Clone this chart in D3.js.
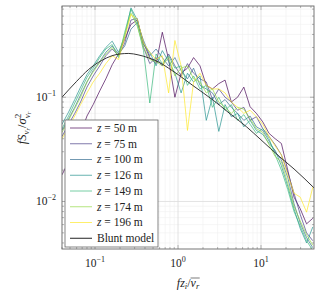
<!DOCTYPE html>
<html><head><meta charset="utf-8">
<script src="https://cdn.jsdelivr.net/npm/d3@7"></script>
<style>body{margin:0;background:#fff} svg{display:block} text{font-family:"Liberation Serif","DejaVu Serif","Times New Roman",serif}</style>
</head><body><svg id="c" width="320" height="295"></svg>
<script>
const freq = [0.040,0.048,0.057,0.067,0.080,0.095,0.114,0.135,0.161,0.192,0.228,0.271,0.323,0.384,0.457,0.544,0.647,0.770,0.917,1.09,1.30,1.54,1.84,2.19,2.60,3.10,3.69,4.39,5.22,6.21,7.39,8.80,10.5,12.5,14.8,17.6,21.0,25.0,29.7,35.4,42.1];
const heights = [50, 75, 100, 126, 149, 174, 196];
const z50  = [0.018,0.024,0.033,0.045,0.066,0.085,0.115,0.15,0.205,0.26,0.36,0.50,0.55,0.33,0.24,0.21,0.42,0.23,0.10,0.17,0.19,0.24,0.20,0.13,0.12,0.135,0.146,0.09,0.10,0.125,0.081,0.07,0.058,0.045,0.040,0.036,0.020,0.011,0.0085,0.0061,0.0069];
const z75  = [0.042,0.055,0.07,0.09,0.125,0.16,0.2,0.25,0.29,0.25,0.33,0.55,0.57,0.3,0.21,0.24,0.2,0.26,0.2,0.16,0.21,0.17,0.15,0.14,0.095,0.12,0.1,0.09,0.075,0.08,0.06,0.065,0.05,0.042,0.035,0.028,0.019,0.012,0.0075,0.005,0.0042];
const z100 = [0.048,0.062,0.08,0.105,0.14,0.18,0.22,0.27,0.31,0.26,0.31,0.45,0.52,0.35,0.25,0.29,0.24,0.2,0.24,0.18,0.15,0.19,0.13,0.12,0.11,0.085,0.095,0.08,0.07,0.06,0.066,0.052,0.048,0.038,0.03,0.025,0.017,0.0095,0.0062,0.0045,0.0036];
const z126 = [0.055,0.072,0.095,0.125,0.165,0.2,0.25,0.3,0.345,0.27,0.38,0.72,0.55,0.32,0.27,0.2,0.28,0.22,0.17,0.11,0.17,0.14,0.16,0.06,0.1,0.047,0.085,0.065,0.07,0.052,0.06,0.048,0.044,0.036,0.031,0.022,0.014,0.0085,0.0055,0.004,0.0057];
const z149 = [0.05,0.066,0.088,0.115,0.155,0.19,0.24,0.29,0.32,0.24,0.42,0.7,0.5,0.28,0.088,0.26,0.21,0.25,0.19,0.2,0.13,0.16,0.12,0.13,0.08,0.1,0.075,0.085,0.06,0.068,0.055,0.045,0.05,0.04,0.028,0.02,0.013,0.008,0.0058,0.0042,0.0034];
const z174 = [0.046,0.06,0.078,0.1,0.14,0.175,0.215,0.26,0.3,0.25,0.4,0.64,0.48,0.3,0.23,0.22,0.2,0.24,0.16,0.19,0.2,0.15,0.14,0.11,0.12,0.09,0.08,0.07,0.08,0.077,0.062,0.05,0.046,0.035,0.027,0.024,0.015,0.009,0.0065,0.0048,0.0038];
const z196 = [0.04,0.052,0.066,0.085,0.11,0.14,0.17,0.21,0.25,0.23,0.37,0.62,0.56,0.33,0.27,0.23,0.25,0.11,0.35,0.2,0.048,0.14,0.17,0.13,0.12,0.12,0.11,0.09,0.08,0.07,0.075,0.065,0.055,0.042,0.034,0.028,0.018,0.012,0.011,0.0079,0.0137];
const bluntX = [0.04,0.06,0.084,0.12,0.16,0.2,0.255,0.33,0.44,0.6,0.77,1.0,1.5,2.66,4,6.7,10,16.9,25,43.5];
const bluntY = [0.1,0.142,0.185,0.225,0.25,0.26,0.263,0.255,0.239,0.215,0.19,0.165,0.13,0.0935,0.072,0.052,0.039,0.0267,0.0205,0.0135];
const xTickVals = [0.1, 1, 10];
const xTickExp = ["\u22121", "0", "1"];
const yTickVals = [0.01, 0.1];
const yTickExp = ["\u22122", "\u22121"];

const seriesData = [z50, z75, z100, z126, z149, z174, z196];

const svg = d3.select("#c");
const L=62, R=314, T=6, B=249;
const x = d3.scaleLog().domain([0.04,43.5]).range([L,R]);
const y = d3.scaleLog().domain([0.0035,0.75]).range([B,T]);
const color = i => d3.interpolateViridis(i/6);
const OP = 0.68;

function decadeTicks(lo, hi){
  const major=[], minor=[];
  for(let e=-3;e<=2;e++) for(let m=1;m<=9;m++){
    const v=m*Math.pow(10,e);
    if(v>=lo*0.9999 && v<=hi*1.0001) (m===1?major:minor).push(v);
  }
  return {major, minor};
}
const xt = decadeTicks(0.04,43.5), yt = decadeTicks(0.0035,0.75);

const g = svg.append("g");
g.selectAll(".gxm").data(xt.minor).enter().append("line")
 .attr("x1",d=>x(d)).attr("x2",d=>x(d)).attr("y1",T).attr("y2",B)
 .attr("stroke","#f0f0f0").attr("stroke-width",0.6);
g.selectAll(".gym").data(yt.minor).enter().append("line")
 .attr("y1",d=>y(d)).attr("y2",d=>y(d)).attr("x1",L).attr("x2",R)
 .attr("stroke","#f0f0f0").attr("stroke-width",0.6);
g.selectAll(".gxM").data(xt.major).enter().append("line")
 .attr("x1",d=>x(d)).attr("x2",d=>x(d)).attr("y1",T).attr("y2",B)
 .attr("stroke","#dcdcdc").attr("stroke-width",0.8);
g.selectAll(".gyM").data(yt.major).enter().append("line")
 .attr("y1",d=>y(d)).attr("y2",d=>y(d)).attr("x1",L).attr("x2",R)
 .attr("stroke","#dcdcdc").attr("stroke-width",0.8);

const tk = svg.append("g").attr("stroke","#888").attr("stroke-width",0.6);
[[xt.major,4],[xt.minor,2]].forEach(([vals,len])=>{
  vals.forEach(v=>{
    tk.append("line").attr("x1",x(v)).attr("x2",x(v)).attr("y1",B).attr("y2",B-len);
    tk.append("line").attr("x1",x(v)).attr("x2",x(v)).attr("y1",T).attr("y2",T+len);
  });
});
[[yt.major,4],[yt.minor,2]].forEach(([vals,len])=>{
  vals.forEach(v=>{
    tk.append("line").attr("y1",y(v)).attr("y2",y(v)).attr("x1",L).attr("x2",L+len);
    tk.append("line").attr("y1",y(v)).attr("y2",y(v)).attr("x1",R).attr("x2",R-len);
  });
});

svg.append("clipPath").attr("id","clip").append("rect")
  .attr("x",L).attr("y",T).attr("width",R-L).attr("height",B-T);

const line = d3.line().x(d=>x(d[0])).y(d=>y(d[1]));
const plot = svg.append("g").attr("clip-path","url(#clip)");
seriesData.forEach((arr,i)=>{
  plot.append("path").datum(freq.map((f,j)=>[f,arr[j]]))
    .attr("d",line).attr("fill","none")
    .attr("stroke",color(i)).attr("stroke-opacity",OP).attr("stroke-width",1);
});
plot.append("path").datum(bluntX.map((f,j)=>[f,bluntY[j]]))
  .attr("d",d3.line().curve(d3.curveMonotoneX).x(d=>x(d[0])).y(d=>y(d[1])))
  .attr("fill","none").attr("stroke","#222").attr("stroke-width",0.9);

svg.append("rect").attr("x",L).attr("y",T).attr("width",R-L).attr("height",B-T)
  .attr("fill","none").attr("stroke","#666").attr("stroke-width",0.9);

xTickVals.forEach((v,i)=>{
  const t = svg.append("text").attr("x",x(v)).attr("y",267)
    .attr("text-anchor","middle").attr("font-size",11.5).attr("fill","#222");
  t.append("tspan").text("10");
  t.append("tspan").attr("dy",-5).attr("font-size",8).text(xTickExp[i]);
});
yTickVals.forEach((v,i)=>{
  const t = svg.append("text").attr("x",56).attr("y",y(v)+4)
    .attr("text-anchor","end").attr("font-size",11.5).attr("fill","#222");
  t.append("tspan").text("10");
  t.append("tspan").attr("dy",-5).attr("font-size",8).text(yTickExp[i]);
});

const xl = svg.append("text").attr("x",188).attr("y",287).attr("text-anchor","middle")
  .attr("font-size",12).attr("fill","#222").attr("font-style","italic");
xl.append("tspan").text("fz");
xl.append("tspan").attr("font-size",8.5).attr("dy",2).text("i");
xl.append("tspan").attr("dy",-2).attr("font-style","normal").text("/");
xl.append("tspan").text("v");
xl.append("tspan").attr("font-size",8.5).attr("dy",2).text("r");
{
  const node = xl.node();
  const x0 = node.getStartPositionOfChar(4).x, x1 = node.getEndPositionOfChar(5).x;
  svg.append("line").attr("x1",x0).attr("x2",x1+0.5).attr("y1",278).attr("y2",278)
    .attr("stroke","#222").attr("stroke-width",0.6);
}

const yl = svg.append("text").attr("transform","translate(26,128) rotate(-90)")
  .attr("text-anchor","middle").attr("font-size",12.5)
  .attr("fill","#222").attr("font-style","italic");
yl.append("tspan").text("fS");
yl.append("tspan").attr("font-size",9).attr("dy",2.5).text("v");
yl.append("tspan").attr("font-size",6.5).attr("dy",1.5).text("r");
yl.append("tspan").attr("dy",-4).attr("font-style","normal").text("/");
yl.append("tspan").text("\u03c3");
yl.append("tspan").attr("font-size",9).attr("dy",-5.5).attr("font-style","normal").text("2");
yl.append("tspan").attr("font-size",9).attr("dx",-4.5).attr("dy",9).text("v");
yl.append("tspan").attr("font-size",6.5).attr("dy",1.5).text("r");

const lg = svg.append("g");
lg.append("rect").attr("x",65).attr("y",120).attr("width",93).attr("height",127)
  .attr("fill","#fff").attr("stroke","#666").attr("stroke-width",0.8);
const labels = heights.map(h=>String(h)).concat(["Blunt model"]);
labels.forEach((lab,i)=>{
  const ry = 128 + i*15.75;
  const isModel = i===heights.length;
  lg.append("line").attr("x1",70).attr("x2",92).attr("y1",ry).attr("y2",ry)
    .attr("stroke", isModel ? "#222" : color(i)).attr("stroke-opacity", isModel?1:OP)
    .attr("stroke-width", 1);
  const t = lg.append("text").attr("x",97).attr("y",ry+3.8)
    .attr("font-size",11.5).attr("fill","#222");
  if(isModel){ t.text(lab); }
  else {
    t.append("tspan").attr("font-style","italic").text("z");
    t.append("tspan").text(" = " + lab + " m");
  }
});
</script></body></html>
